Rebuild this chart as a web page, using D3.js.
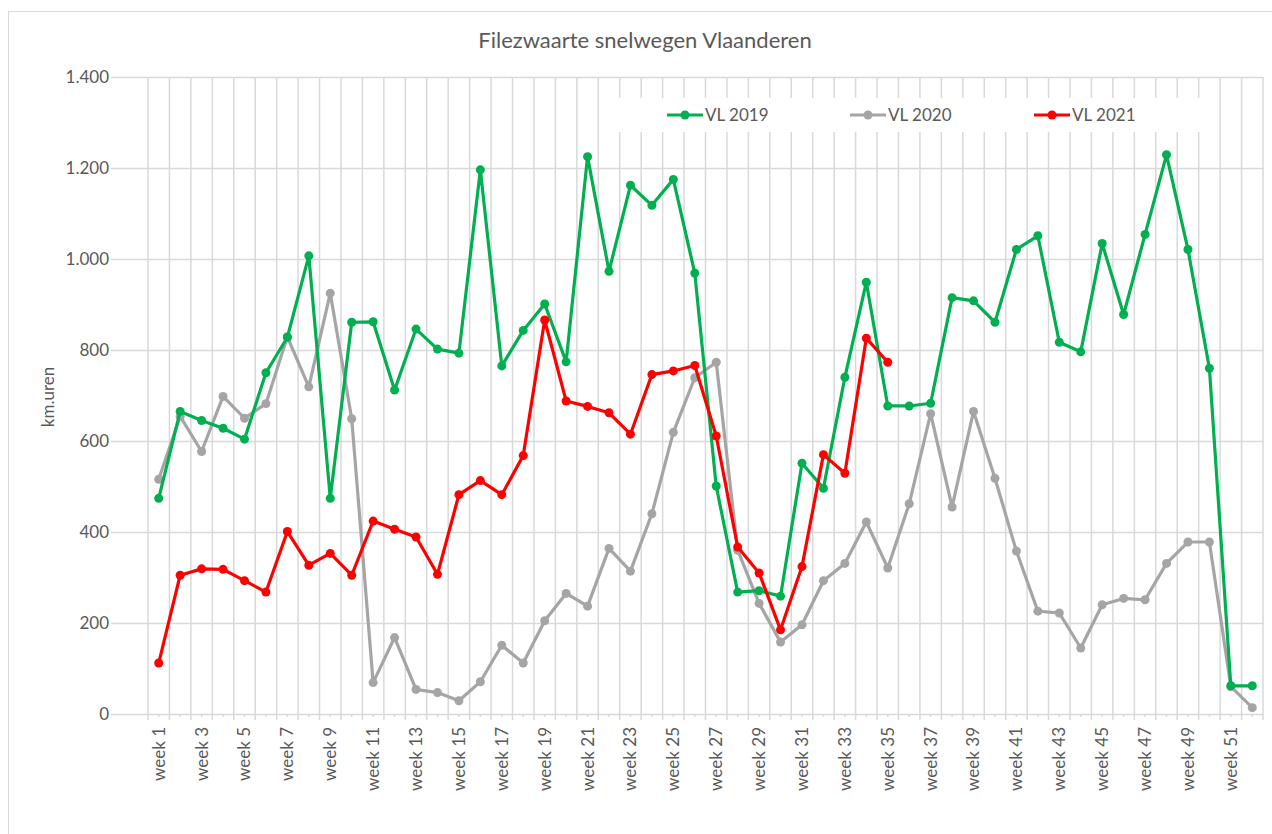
<!DOCTYPE html>
<html>
<head>
<meta charset="utf-8">
<script src="https://cdn.jsdelivr.net/npm/d3@7"></script>
<style>
  body { margin: 0; background: #fff; }
  svg text { font-family: Lato, "Open Sans", sans-serif; fill: #595959; }
</style>
</head>
<body>
<svg id="svg"></svg>
<script>
// weeks 1..52
const weeks = d3.range(1, 53).map(d => "week " + d);

const vl2019 = [474, 665, 645, 628, 604, 750, 828, 1007, 474, 861,
    862, 712, 846, 802, 793, 1196, 765, 843, 901, 774,
    1225, 973, 1162, 1118, 1175, 969, 501, 268, 271, 259,
    551, 496, 740, 949, 677, 677, 683, 915, 908, 861,
    1021, 1051, 817, 796, 1034, 878, 1054, 1229, 1021, 760,
    62, 62];

const vl2020 = [516, 654, 577, 698, 650, 682, 829, 719, 925, 649,
    69, 168, 54, 47, 29, 71, 151, 112, 205, 265,
    237, 364, 314, 440, 619, 739, 773, 360, 243, 158,
    196, 293, 331, 422, 321, 462, 660, 455, 665, 518,
    358, 226, 222, 145, 240, 254, 251, 331, 378, 378,
    60, 14];

const vl2021 = [112, 305, 319, 318, 293, 268, 401, 327, 353, 305,
    424, 406, 389, 307, 482, 513, 482, 568, 866, 688,
    676, 662, 615, 746, 754, 766, 611, 367, 310, 185,
    324, 570, 529, 826, 773];

const seriesNames = ["VL 2019", "VL 2020", "VL 2021"];
const seriesColors = ["#00B050", "#A5A5A5", "#FF0000"];
const yTicks = [0, 200, 400, 600, 800, 1000, 1200, 1400];

const width = 1272;
const height = 834;

let svg = d3.select("#svg").attr("width", width).attr("height", height);

// chart frame
svg.append("rect")
    .attr("x", 8.5).attr("y", 11.5)
    .attr("width", 1300).attr("height", 900)
    .attr("fill", "#fff")
    .attr("stroke", "#D9D9D9")
    .attr("stroke-width", 1);

const plotLeft = 111, catLeft = 148, plotRight = 1263, plotTop = 77, plotBottom = 714;

let xScale = d3.scaleBand()
    .domain(weeks)
    .range([catLeft, plotRight])
    .padding(0);

let yScale = d3.scaleLinear()
    .domain([0, 1400])
    .range([plotBottom, plotTop]);

const nl = d3.formatLocale({ decimal: ",", thousands: ".", grouping: [3], currency: ["€", ""] });
const fmt = nl.format(",");

// horizontal gridlines + y labels
let yAxis = svg.append("g")
    .attr("transform", `translate(${plotLeft},0)`)
    .call(d3.axisLeft(yScale).tickValues(yTicks).tickFormat(fmt)
        .tickSize(-(plotRight - plotLeft)).tickPadding(2));
yAxis.select(".domain").remove();
yAxis.selectAll("line").attr("stroke", "#D9D9D9").attr("stroke-width", 1.5);
yAxis.selectAll("text").style("font-size", "17px").attr("fill", "#595959");

// vertical gridlines at category boundaries (run a bit below the axis as ticks)
const bounds = weeks.map(w => xScale(w)).concat([plotRight]);
svg.append("g").selectAll("line")
    .data(bounds)
    .join("line")
    .attr("x1", d => d).attr("x2", d => d)
    .attr("y1", plotTop).attr("y2", plotBottom + 6)
    .attr("stroke", "#D9D9D9")
    .attr("stroke-width", 1.5);

// x labels, every second week, with small ticks at each category centre
let xAxis = svg.append("g")
    .attr("transform", `translate(0,${plotBottom})`)
    .call(d3.axisBottom(xScale).tickSize(3).tickPadding(0)
        .tickFormat((d, i) => i % 2 === 0 ? d : ""));
xAxis.select(".domain").remove();
xAxis.selectAll("line").attr("stroke", "#D9D9D9").attr("stroke-width", 1.5);
xAxis.selectAll("text")
    .attr("transform", "rotate(-90)")
    .attr("text-anchor", "end")
    .attr("x", -13)
    .attr("y", 0)
    .attr("dy", "0.35em")
    .style("font-size", "17px")
    .attr("fill", "#595959");

// legend background
svg.append("rect")
    .attr("x", 600).attr("y", 98)
    .attr("width", 612).attr("height", 34)
    .attr("fill", "#fff");

// series
const allSeries = [vl2019, vl2020, vl2021];
const line = d3.line()
    .x((d, i) => xScale(weeks[i]) + xScale.bandwidth() / 2)
    .y(d => yScale(d));

// grey first, green, then red on top
[1, 0, 2].forEach(si => {
    const data = allSeries[si];
    const g = svg.append("g");
    g.append("path")
        .datum(data)
        .attr("fill", "none")
        .attr("stroke", seriesColors[si])
        .attr("stroke-width", 3.2)
        .attr("stroke-linejoin", "round")
        .attr("d", line);
    g.selectAll("circle")
        .data(data)
        .join("circle")
        .attr("cx", (d, i) => xScale(weeks[i]) + xScale.bandwidth() / 2)
        .attr("cy", d => yScale(d))
        .attr("r", 4.5)
        .attr("fill", seriesColors[si]);
});

// legend
const legendX = [667, 850, 1034];
seriesNames.forEach((name, i) => {
    const lg = svg.append("g").attr("transform", `translate(${legendX[i]},115)`);
    lg.append("line")
        .attr("x1", 0).attr("x2", 36)
        .attr("stroke", seriesColors[i])
        .attr("stroke-width", 3.2);
    lg.append("circle").attr("cx", 18).attr("r", 4.5).attr("fill", seriesColors[i]);
    lg.append("text")
        .attr("x", 38).attr("dy", "0.35em")
        .style("font-size", "17px")
        .text(name);
});

// title
svg.append("text")
    .attr("x", 645).attr("y", 48)
    .attr("text-anchor", "middle")
    .style("font-size", "22px")
    .text("Filezwaarte snelwegen Vlaanderen");

// y axis title
svg.append("text")
    .attr("transform", "translate(54,397) rotate(-90)")
    .attr("text-anchor", "middle")
    .style("font-size", "17px")
    .text("km.uren");
</script>
</body>
</html>
